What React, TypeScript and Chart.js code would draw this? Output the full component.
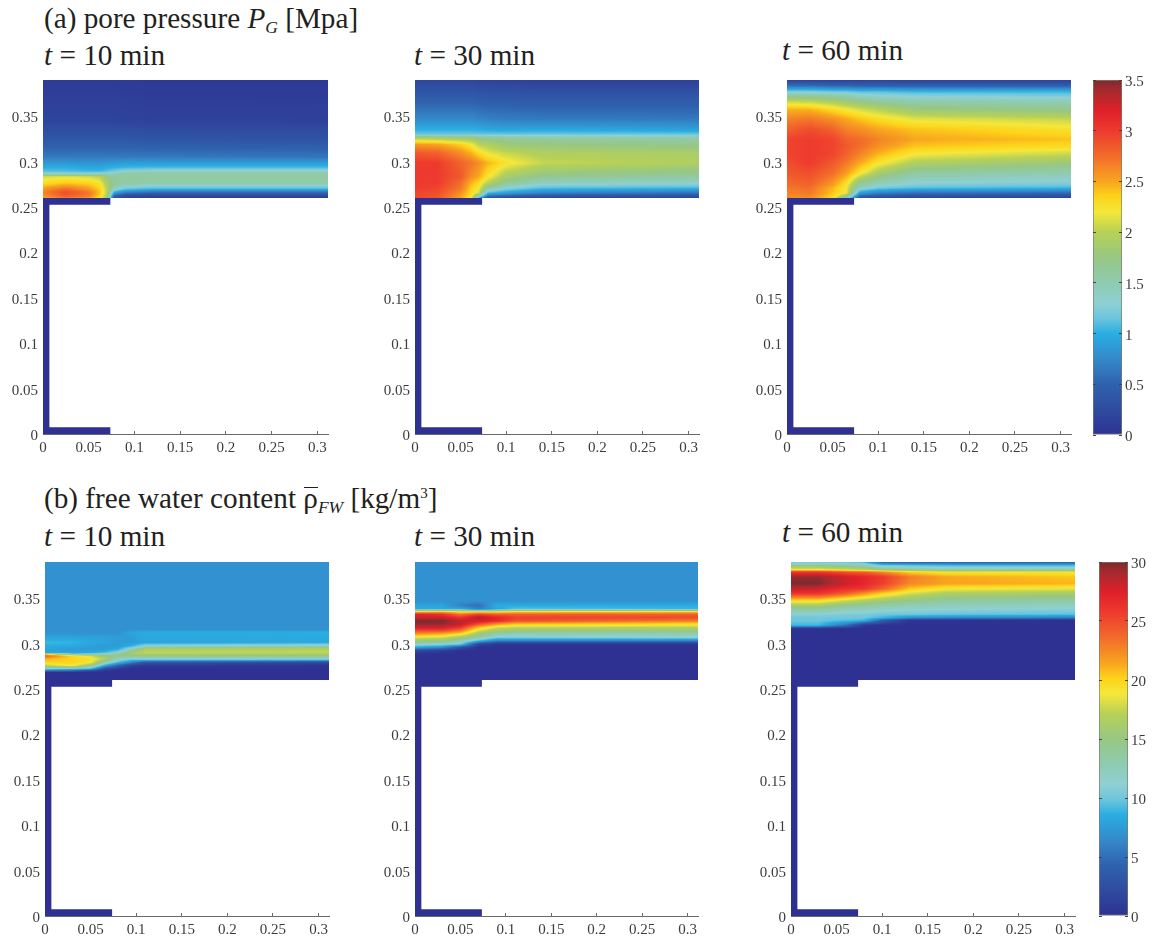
import React, { useEffect, useRef } from "react";
import { Chart, registerables } from "chart.js";

Chart.register(...registerables);

// ---------- axes ----------
const xTicks = [0, 0.05, 0.1, 0.15, 0.2, 0.25, 0.3];
const yTicks = [0, 0.05, 0.1, 0.15, 0.2, 0.25, 0.3, 0.35];
const pressureTicks = [0, 0.5, 1, 1.5, 2, 2.5, 3, 3.5];
const waterTicks = [0, 5, 10, 15, 20, 25, 30];
const xLimit = 0.3115;
const yLimit = 0.39;

// ---------- solid (zero-value) section outline ----------
const wallX = [0, 0.0736, 0.0736, 0.007, 0.007, 0.0736, 0.0736, 0, 0];
const wallY = [0, 0, 0.0075, 0.0075, 0.2525, 0.2525, 0.26, 0.26, 0];

// ---------- colour map (fractions of the colour bar) ----------
const mapStops = [0, 0.25, 0.5, 0.75, 1, 1.15, 1.3, 1.5, 1.75, 2, 2.2, 2.35, 2.5, 2.75, 3, 3.2, 3.4, 3.5];
const mapColors = ["#2e3192", "#2f4ba0", "#2f62ae", "#3489ca", "#29aee3", "#6cc5dc", "#8fd0d3", "#8fcbb0", "#97c783", "#b7d157", "#f5e73a", "#fdd319", "#f8a51f", "#f26c2a", "#ee3a2e", "#e0202a", "#a52a2e", "#7d2a2f"];
const mapTop = 3.5;

// ---------- panel a, t = 10 min ----------
const a10X = [0, 0.025, 0.05, 0.062, 0.07, 0.078, 0.09, 0.12, 0.3115];
const a10Y = [0.26, 0.263, 0.2665, 0.27, 0.276, 0.2835, 0.287, 0.2895, 0.2935, 0.2975, 0.3055, 0.324, 0.346, 0.39];
const a10Cols = [
  [2.5, 2.6, 2.65, 2.55, 2.3, 2.1, 1.3, 1.1, 1.0, 0.88, 0.65, 0.38, 0.18, 0.1],
  [2.7, 2.85, 2.9, 2.75, 2.4, 2.15, 1.3, 1.1, 1.0, 0.88, 0.65, 0.38, 0.18, 0.1],
  [2.55, 2.7, 2.7, 2.55, 2.35, 2.1, 1.3, 1.05, 0.95, 0.85, 0.65, 0.38, 0.18, 0.1],
  [2.25, 2.35, 2.4, 2.35, 2.25, 2.0, 1.35, 1.05, 0.95, 0.85, 0.65, 0.38, 0.18, 0.1],
  [1.9, 1.95, 2.0, 2.0, 1.9, 1.75, 1.4, 1.1, 1.0, 0.88, 0.65, 0.38, 0.18, 0.1],
  [0.25, 0.6, 1.0, 1.4, 1.65, 1.6, 1.45, 1.2, 1.02, 0.9, 0.65, 0.38, 0.18, 0.1],
  [0.15, 0.3, 0.75, 1.15, 1.55, 1.6, 1.55, 1.3, 1.05, 0.92, 0.65, 0.38, 0.17, 0.09],
  [0.1, 0.25, 0.6, 1.05, 1.5, 1.6, 1.55, 1.35, 1.08, 0.92, 0.65, 0.36, 0.16, 0.08],
  [0.1, 0.25, 0.6, 1.05, 1.5, 1.6, 1.55, 1.35, 1.08, 0.92, 0.62, 0.35, 0.15, 0.08],
];

// ---------- panel a, t = 30 min ----------
const a30X = [0, 0.025, 0.05, 0.062, 0.07, 0.08, 0.1, 0.14, 0.3115];
const a30Y = [0.26, 0.2655, 0.271, 0.2766, 0.284, 0.2987, 0.3097, 0.319, 0.3265, 0.3302, 0.3358, 0.3468, 0.369, 0.39];
const a30Cols = [
  [2.95, 2.95, 3.0, 3.0, 3.0, 3.0, 2.85, 2.55, 1.9, 1.15, 1.0, 0.75, 0.45, 0.2],
  [2.85, 2.9, 2.95, 3.0, 3.0, 3.0, 2.8, 2.5, 1.85, 1.15, 1.0, 0.75, 0.45, 0.2],
  [2.5, 2.6, 2.7, 2.75, 2.85, 2.8, 2.6, 2.35, 1.8, 1.15, 1.0, 0.75, 0.45, 0.2],
  [2.2, 2.3, 2.35, 2.45, 2.6, 2.7, 2.45, 2.2, 1.8, 1.15, 1.0, 0.75, 0.45, 0.2],
  [1.0, 2.1, 2.2, 2.3, 2.5, 2.6, 2.3, 2.0, 1.7, 1.15, 0.98, 0.72, 0.43, 0.18],
  [0.3, 1.05, 1.6, 2.0, 2.25, 2.45, 2.15, 1.95, 1.65, 1.15, 0.95, 0.7, 0.42, 0.17],
  [0.2, 0.9, 1.3, 1.65, 1.9, 2.25, 2.05, 1.8, 1.6, 1.15, 0.92, 0.68, 0.41, 0.16],
  [0.15, 0.7, 1.1, 1.4, 1.7, 2.05, 1.95, 1.75, 1.55, 1.15, 0.95, 0.66, 0.4, 0.15],
  [0.15, 0.6, 1.05, 1.35, 1.6, 1.95, 1.9, 1.7, 1.5, 1.15, 0.9, 0.65, 0.4, 0.15],
];

// ---------- panel a, t = 60 min ----------
const a60X = [0, 0.025, 0.05, 0.065, 0.08, 0.1, 0.14, 0.3115];
const a60Y = [0.26, 0.2655, 0.2712, 0.2748, 0.2877, 0.2987, 0.3081, 0.3173, 0.3247, 0.3358, 0.3468, 0.3576, 0.3668, 0.3742, 0.3779, 0.3834, 0.39];
const a60Cols = [
  [2.6, 2.65, 2.7, 2.75, 2.85, 2.9, 2.95, 2.95, 2.95, 2.8, 2.65, 2.45, 2.05, 1.5, 1.15, 0.6, 0.15],
  [2.6, 2.7, 2.75, 2.8, 2.9, 3.0, 3.0, 3.0, 3.0, 2.9, 2.7, 2.45, 2.0, 1.5, 1.15, 0.6, 0.15],
  [2.3, 2.4, 2.45, 2.55, 2.75, 2.85, 2.95, 2.95, 2.95, 2.8, 2.6, 2.3, 1.9, 1.45, 1.1, 0.55, 0.15],
  [1.5, 2.2, 2.2, 2.25, 2.55, 2.7, 2.8, 2.85, 2.8, 2.65, 2.5, 2.2, 1.8, 1.4, 1.1, 0.55, 0.15],
  [0.3, 0.9, 1.4, 1.6, 2.25, 2.5, 2.65, 2.75, 2.75, 2.6, 2.4, 2.1, 1.7, 1.3, 1.05, 0.5, 0.15],
  [0.2, 0.7, 1.2, 1.4, 1.9, 2.25, 2.45, 2.6, 2.65, 2.5, 2.3, 2.0, 1.6, 1.25, 1.05, 0.5, 0.15],
  [0.15, 0.6, 1.1, 1.25, 1.6, 1.95, 2.2, 2.4, 2.5, 2.4, 2.15, 1.8, 1.5, 1.2, 1.0, 0.5, 0.15],
  [0.15, 0.55, 1.05, 1.2, 1.5, 1.8, 2.05, 2.3, 2.4, 2.25, 2.05, 1.7, 1.45, 1.15, 1.0, 0.5, 0.15],
];

// ---------- panel b, t = 10 min ----------
const b10X = [0, 0.03, 0.05, 0.065, 0.08, 0.095, 0.11, 0.3115];
const b10Y = [0.26, 0.2683, 0.27, 0.272, 0.2757, 0.2793, 0.283, 0.2867, 0.2885, 0.2904, 0.2941, 0.2977, 0.3014, 0.3069, 0.3124, 0.316, 0.39];
const b10Cols = [
  [0, 0, 5, 10, 17, 20, 21, 24, 20, 8, 8, 8.5, 9, 8, 6.9, 6.9, 6.9],
  [0, 0, 4, 9, 19, 20, 20, 20, 10, 8, 7.5, 8.3, 8.8, 8, 6.9, 6.9, 6.9],
  [0, 0, 1.5, 8, 15, 19, 19.5, 18, 11, 8.2, 7.5, 7.8, 8.2, 7.8, 6.9, 6.9, 6.9],
  [0, 0, 0.5, 2, 8, 13, 17, 15, 12, 9, 7.5, 7.5, 8, 7.8, 6.9, 6.9, 6.9],
  [0, 0, 0, 0.5, 4, 9, 12, 15, 14, 11, 8.3, 7.5, 7.5, 7.6, 6.9, 6.9, 6.9],
  [0, 0, 0, 0, 1, 6, 10.5, 14.5, 16, 16, 12, 8.5, 7.6, 7.6, 8, 6.9, 6.9],
  [0, 0, 0, 0, 0.5, 3, 11, 14.5, 16.5, 17.5, 16.5, 11, 8, 8.3, 8.4, 6.9, 6.9],
  [0, 0, 0, 0, 0.3, 2, 11, 14.5, 16.5, 17.5, 17, 12, 8.3, 8.3, 8.5, 6.9, 6.9],
];

// ---------- panel b, t = 30 min ----------
const b30X = [0, 0.03, 0.05, 0.07, 0.09, 0.11, 0.3115];
const b30Y = [0.26, 0.2885, 0.2922, 0.2959, 0.2996, 0.3032, 0.3069, 0.3106, 0.3143, 0.3179, 0.3216, 0.3253, 0.329, 0.3326, 0.3352, 0.3381, 0.3418, 0.3473, 0.39];
const b30Cols = [
  [0, 0, 2, 8, 12, 15.5, 18.5, 22, 25, 28, 29.5, 30, 28, 27, 20, 8.5, 8, 6.9, 6.9],
  [0, 0, 1, 6.5, 11.5, 15, 18, 21, 25, 28, 29.5, 30, 28, 26, 21, 8.5, 8, 6.9, 6.9],
  [0, 0, 0, 3, 10.5, 13, 16, 19.5, 23, 26, 28.5, 28.5, 26, 23, 19, 8.5, 6, 6.9, 6.9],
  [0, 0, 0, 0, 2, 9, 13.5, 15.5, 18, 20.5, 25, 28, 29, 25, 19, 6, 5, 6.9, 6.9],
  [0, 0, 0, 0, 0.5, 6, 10.5, 13, 16, 18, 22, 27, 27, 24, 19, 8, 8.5, 6.9, 6.9],
  [0, 0, 0, 0, 0.5, 6, 10.5, 12.5, 15, 17.5, 20.5, 25, 25.5, 24, 20, 9.5, 8.5, 6.9, 6.9],
  [0, 0, 0, 0, 0.5, 6, 11, 12.5, 15, 17, 19.5, 23, 25, 24, 20, 9, 8.5, 6.9, 6.9],
];

// ---------- panel b, t = 60 min ----------
const b60X = [0, 0.03, 0.06, 0.08, 0.1, 0.13, 0.17, 0.3115];
const b60Y = [0.26, 0.3165, 0.3202, 0.3257, 0.3287, 0.3323, 0.3404, 0.3478, 0.3551, 0.3606, 0.3661, 0.3735, 0.379, 0.3816, 0.3863, 0.39];
const b60Cols = [
  [0, 0, 9, 10, 10, 11, 15, 20, 26, 28.5, 30, 29.5, 26, 19, 14, 10],
  [0, 0, 9, 10, 10, 11, 15, 20, 26, 28, 30, 29.5, 26, 19, 14, 10],
  [0, 0, 5, 9.5, 10, 10.5, 13.5, 18, 24, 26.5, 28, 28, 24.5, 18, 13.5, 9.5],
  [0, 0, 0.5, 9, 10, 10.5, 13, 17, 22, 26, 27, 27, 24, 17, 12.5, 9],
  [0, 0, 0, 4, 9, 10, 12.5, 16, 20, 24, 25.5, 26, 22.5, 15, 10, 4],
  [0, 0, 0, 0.5, 7, 10, 12, 15, 18, 20.5, 22.5, 23, 20, 14, 9.5, 3.5],
  [0, 0, 0, 0.3, 6.5, 9.8, 11.8, 14, 16.5, 19, 21.5, 21.5, 19, 13, 9, 3.5],
  [0, 0, 0, 0, 6, 9.5, 11.5, 13.5, 16, 18.5, 21, 20.5, 19, 13, 9, 3.5],
];

// ---------- helpers ----------
function hexRgb(h: string) {
  return [parseInt(h.slice(1, 3), 16), parseInt(h.slice(3, 5), 16), parseInt(h.slice(5, 7), 16)];
}
const mapRgb = mapColors.map(hexRgb);

function colourOf(fraction: number) {
  const v = Math.max(0, Math.min(mapTop, fraction * mapTop));
  let i = 0;
  while (i < mapStops.length - 2 && v > mapStops[i + 1]) i++;
  const t = (v - mapStops[i]) / (mapStops[i + 1] - mapStops[i]);
  return mapRgb[i].map((c, k) => c + (mapRgb[i + 1][k] - c) * t);
}

function seek(list: number[], v: number) {
  let i = 0;
  while (i < list.length - 2 && v > list[i + 1]) i++;
  return [i, Math.max(0, Math.min(1, (v - list[i]) / (list[i + 1] - list[i])))];
}

type Field = { xs: number[]; ys: number[]; cols: number[][]; top: number };

function fieldPlugin(f: Field) {
  return {
    id: "fieldShading",
    beforeDatasetsDraw(chart: any) {
      const sx = chart.scales.x;
      const sy = chart.scales.y;
      const x0 = Math.round(sx.getPixelForValue(f.xs[0]));
      const x1 = Math.round(sx.getPixelForValue(f.xs[f.xs.length - 1]));
      const y0 = Math.round(sy.getPixelForValue(f.ys[f.ys.length - 1]));
      const y1 = Math.round(sy.getPixelForValue(f.ys[0]));
      const w = x1 - x0;
      const h = y1 - y0;
      const off = document.createElement("canvas");
      off.width = w;
      off.height = h;
      const oc = off.getContext("2d")!;
      const img = oc.createImageData(w, h);
      for (let py = 0; py < h; py++) {
        const [j, ty] = seek(f.ys, sy.getValueForPixel(y0 + py + 0.5));
        for (let px = 0; px < w; px++) {
          const [i, tx] = seek(f.xs, sx.getValueForPixel(x0 + px + 0.5));
          const a = f.cols[i][j] + (f.cols[i + 1][j] - f.cols[i][j]) * tx;
          const b = f.cols[i][j + 1] + (f.cols[i + 1][j + 1] - f.cols[i][j + 1]) * tx;
          const c = colourOf((a + (b - a) * ty) / f.top);
          const o = (py * w + px) * 4;
          img.data[o] = c[0];
          img.data[o + 1] = c[1];
          img.data[o + 2] = c[2];
          img.data[o + 3] = 255;
        }
      }
      oc.putImageData(img, 0, 0);
      chart.ctx.save();
      chart.ctx.filter = "blur(0.6px)";
      chart.ctx.drawImage(off, x0, y0);
      chart.ctx.restore();
    },
  };
}

const tickFont = { family: "'Liberation Serif'", size: 15 };
const tickColor = "#3c3c3c";
const fmt = (v: any) => String(+(+v).toFixed(2));
const noMargins = (s: any) => {
  s.paddingTop = 0;
  s.paddingBottom = 0;
  s.paddingLeft = 0;
  s.paddingRight = 0;
};

function Panel(props: { left: number; top: number; width: number; xs: number[]; ys: number[]; cols: number[][]; maxV: number; name: string }) {
  const ref = useRef<HTMLCanvasElement>(null);
  const { xs, ys, cols, maxV, name } = props;
  useEffect(() => {
    const points: any[] = [];
    xs.forEach((x, i) => ys.forEach((y, j) => points.push({ x, y, v: cols[i][j] })));
    const chart = new Chart(ref.current!, {
      type: "scatter",
      data: {
        datasets: [
          { label: name, data: points, pointRadius: 0, showLine: false },
          {
            label: "section",
            data: wallX.map((x, i) => ({ x, y: wallY[i] })),
            showLine: true,
            fill: "shape",
            backgroundColor: "#2e3192",
            borderColor: "#2e3192",
            borderWidth: 0,
            pointRadius: 0,
            tension: 0,
          },
        ],
      },
      options: {
        responsive: false,
        animation: false,
        events: [],
        layout: { padding: { top: 8, right: 14, left: 0, bottom: 0 } },
        plugins: { legend: { display: false }, tooltip: { enabled: false } },
        scales: {
          x: {
            type: "linear",
            min: 0,
            max: xLimit,
            afterBuildTicks: (s: any) => { s.ticks = xTicks.map((value) => ({ value })); },
            afterFit: (s: any) => { s.height = 26; noMargins(s); },
            border: { color: "#6a6a6a", width: 1 },
            grid: { drawOnChartArea: false, tickLength: -3, color: "#6a6a6a" },
            ticks: { font: tickFont, color: tickColor, padding: 8, maxRotation: 0, autoSkip: false, callback: fmt },
          },
          y: {
            type: "linear",
            min: 0,
            max: yLimit,
            afterBuildTicks: (s: any) => { s.ticks = yTicks.map((value) => ({ value })); },
            afterFit: (s: any) => { s.width = 40; noMargins(s); },
            border: { display: false },
            grid: { display: false, drawTicks: false },
            ticks: { font: tickFont, color: tickColor, padding: 5, labelOffset: 2, autoSkip: false, callback: fmt },
          },
        },
      } as any,
      plugins: [fieldPlugin({ xs, ys, cols, top: maxV })],
    } as any);
    return () => chart.destroy();
  }, []);
  return (
    <canvas
      ref={ref}
      width={props.width + 54}
      height={354 + 8 + 26}
      style={{ position: "absolute", left: props.left - 40, top: props.top - 8 }}
    />
  );
}

function ColourBar(props: { left: number; top: number; height: number; ticks: number[]; maxV: number; name: string }) {
  const ref = useRef<HTMLCanvasElement>(null);
  const { ticks, maxV, name } = props;
  useEffect(() => {
    const axisBase = {
      type: "linear",
      min: 0,
      max: maxV,
      afterBuildTicks: (s: any) => { s.ticks = ticks.map((value) => ({ value })); },
      border: { display: false },
    };
    const chart = new Chart(ref.current!, {
      type: "bar",
      data: {
        labels: [name],
        datasets: [
          {
            label: name,
            data: [[0, maxV]],
            yAxisID: "y",
            categoryPercentage: 1,
            barPercentage: 1,
            borderWidth: 1,
            borderColor: "#7c7c6c",
            borderSkipped: false,
            backgroundColor: (ctx: any) => {
              const c = ctx.chart;
              if (!c.chartArea) return "#2e3192";
              const g = c.ctx.createLinearGradient(0, c.scales.y.getPixelForValue(0), 0, c.scales.y.getPixelForValue(maxV));
              mapStops.forEach((s, i) => g.addColorStop(s / mapTop, mapColors[i]));
              return g;
            },
          },
        ],
      },
      options: {
        responsive: false,
        animation: false,
        events: [],
        layout: { padding: { top: 8, right: 0, left: 0, bottom: 10 } },
        plugins: { legend: { display: false }, tooltip: { enabled: false } },
        scales: {
          x: { display: false },
          y: {
            ...axisBase,
            position: "right",
            afterFit: (s: any) => { s.width = 28; noMargins(s); },
            grid: { drawOnChartArea: false, tickLength: -3, color: "#444444", z: 1 },
            ticks: { font: tickFont, color: tickColor, padding: 6, labelOffset: 2, autoSkip: false, callback: fmt },
          },
          left: {
            ...axisBase,
            position: "left",
            afterFit: (s: any) => { s.width = 0; noMargins(s); },
            grid: { drawOnChartArea: false, tickLength: -3, color: "#444444", z: 1 },
            ticks: { display: false },
          },
        },
      } as any,
    } as any);
    return () => chart.destroy();
  }, []);
  return (
    <canvas
      ref={ref}
      width={29 + 28}
      height={props.height + 18}
      style={{ position: "absolute", left: props.left, top: props.top - 8 }}
    />
  );
}

const serif = "'Liberation Serif', serif";

function Label(props: { x: number; base: number; children: any }) {
  return (
    <div
      style={{
        position: "absolute",
        left: props.x,
        top: props.base - 26.5,
        lineHeight: "32px",
        height: 32,
        fontFamily: serif,
        fontSize: 29.2,
        color: "#231f20",
        whiteSpace: "nowrap",
      }}
    >
      {props.children}
    </div>
  );
}

const T = (p: { n: string }) => (
  <>
    <i>t</i> = {p.n} min
  </>
);
const Sub = (p: { s: string }) => (
  <i style={{ fontSize: 17.5, position: "relative", top: 5, verticalAlign: "baseline" }}>{p.s}</i>
);
const RhoBar = () => (
  <span style={{ position: "relative", display: "inline-block" }}>
    ρ
    <span style={{ position: "absolute", left: 1, right: 0, top: 5, height: 1.5, background: "#231f20" }} />
  </span>
);

export default function App() {
  return (
    <div style={{ position: "absolute", left: 0, top: 0, width: 1156, height: 940, background: "#fff", overflow: "hidden" }}>
      <Label x={44} base={28}>(a) pore pressure <i>P</i><Sub s="G" /> [Mpa]</Label>
      <Label x={44} base={65}><T n="10" /></Label>
      <Label x={414} base={65}><T n="30" /></Label>
      <Label x={782} base={60}><T n="60" /></Label>
      <Label x={44} base={508}>(b) free water content <RhoBar /><Sub s="FW" /> [kg/m<span style={{ fontSize: 15, position: "relative", top: -10 }}>3</span>]</Label>
      <Label x={44} base={546}><T n="10" /></Label>
      <Label x={414} base={546}><T n="30" /></Label>
      <Label x={782} base={542}><T n="60" /></Label>

      <Panel left={43} top={80} width={285} xs={a10X} ys={a10Y} cols={a10Cols} maxV={3.5} name="pore pressure 10 min" />
      <Panel left={415} top={80} width={284} xs={a30X} ys={a30Y} cols={a30Cols} maxV={3.5} name="pore pressure 30 min" />
      <Panel left={787} top={80} width={284} xs={a60X} ys={a60Y} cols={a60Cols} maxV={3.5} name="pore pressure 60 min" />
      <Panel left={45} top={562} width={284} xs={b10X} ys={b10Y} cols={b10Cols} maxV={30} name="free water 10 min" />
      <Panel left={415} top={562} width={283} xs={b30X} ys={b30Y} cols={b30Cols} maxV={30} name="free water 30 min" />
      <Panel left={791} top={562} width={284} xs={b60X} ys={b60Y} cols={b60Cols} maxV={30} name="free water 60 min" />

      <ColourBar left={1093} top={80} height={355} ticks={pressureTicks} maxV={3.5} name="pore pressure" />
      <ColourBar left={1099} top={562} height={354} ticks={waterTicks} maxV={30} name="free water content" />
    </div>
  );
}
